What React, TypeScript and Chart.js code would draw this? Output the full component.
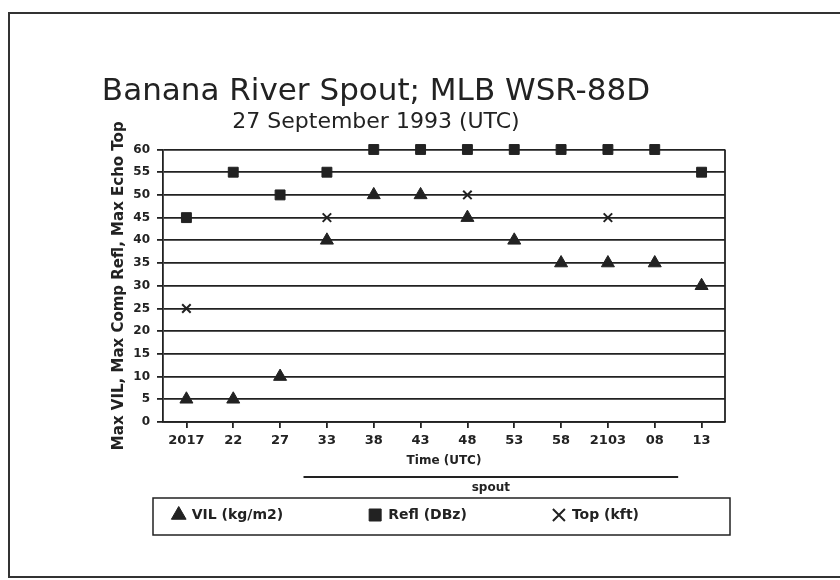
import React, { useEffect, useRef } from "react";
import { Chart, registerables } from "chart.js";

Chart.register(...registerables);

// ---- data ----
const times = ["2017", "22", "27", "33", "38", "43", "48", "53", "58", "2103", "08", "13"];
const vilValues = [5, 5, 10, 40, 50, 50, 45, 40, 35, 35, 35, 30];
const reflValues = [45, 55, 50, 55, 60, 60, 60, 60, 60, 60, 60, 55];
const topValues: (number | null)[] = [25, null, null, 45, null, null, 50, null, null, 45, null, null];
const seriesNames = ["VIL (kg/m2)", "Refl (DBz)", "Top (kft)"];
const yMin = 0;
const yMax = 60;
const yStep = 5;
// spout period: between 27 & 33 and between 08 & 13 (category positions)
const spoutFrom = 2.5;
const spoutTo = 10.5;
const spoutLabel = "spout";

const titleText = "Banana River Spout; MLB WSR-88D";
const subtitleText = "27 September 1993 (UTC)";
const xTitle = "Time (UTC)";
const yTitle = "Max VIL, Max Comp Refl, Max Echo Top";

const INK = "#222222";
const FONT = '"DejaVu Sans", sans-serif';

const decor = {
  id: "decor",
  afterLayout(chart: any) {
    // place the legend row directly under the plot so it sits below the "spout" bar
    const lg = chart.legend;
    if (!lg) return;
    const d = lg.top - chart.chartArea.bottom;
    lg.top -= d;
    lg.bottom -= d;
  },
  beforeDraw(chart: any) {
    const ctx = chart.ctx;
    ctx.save();
    ctx.fillStyle = "#ffffff";
    ctx.fillRect(0, 0, chart.width, chart.height);
    ctx.strokeStyle = "#333";
    ctx.lineWidth = 2;
    ctx.strokeRect(9, 13, chart.width + 20, 564);
    ctx.restore();
  },
  afterDraw(chart: any) {
    const ctx = chart.ctx;
    const ca = chart.chartArea;
    const x = chart.scales.x;
    ctx.save();
    ctx.strokeStyle = INK;
    ctx.lineWidth = 1.8;
    ctx.beginPath();
    ctx.moveTo(ca.right, ca.top);
    ctx.lineTo(ca.right, ca.bottom);
    ctx.stroke();

    // spout bar
    const x0 = x.getPixelForValue(spoutFrom);
    const x1 = x.getPixelForValue(spoutTo);
    const ly = ca.bottom + 55;
    ctx.lineWidth = 2;
    ctx.beginPath();
    ctx.moveTo(x0, ly);
    ctx.lineTo(x1, ly);
    ctx.stroke();
    ctx.fillStyle = INK;
    ctx.font = "bold 12px " + FONT;
    ctx.textAlign = "center";
    ctx.textBaseline = "middle";
    ctx.fillText(spoutLabel, (x0 + x1) / 2, ly + 11);

    // legend frame
    const lg = chart.legend;
    ctx.lineWidth = 1.5;
    ctx.strokeRect(ca.left - 10, lg.bottom - 34, ca.right - ca.left + 15, 37);
    ctx.restore();
  },
};

export default function App() {
  const ref = useRef<HTMLCanvasElement | null>(null);

  useEffect(() => {
    if (!ref.current) return;
    const chart = new Chart(ref.current, {
      type: "line",
      data: {
        labels: times,
        datasets: [
          {
            label: seriesNames[0],
            data: vilValues,
            showLine: false,
            clip: false,
            pointStyle: "triangle",
            pointRadius: 7.5,
            pointBackgroundColor: INK,
            pointBorderColor: INK,
            borderColor: INK,
            backgroundColor: INK,
            pointBorderWidth: 1,
          },
          {
            label: seriesNames[1],
            data: reflValues,
            showLine: false,
            clip: false,
            pointStyle: "rect",
            pointRadius: 7,
            pointBackgroundColor: INK,
            pointBorderColor: INK,
            borderColor: INK,
            backgroundColor: INK,
            pointBorderWidth: 1,
          },
          {
            label: seriesNames[2],
            data: topValues,
            showLine: false,
            clip: false,
            pointStyle: "crossRot",
            pointRadius: 6,
            pointBackgroundColor: INK,
            pointBorderColor: INK,
            borderColor: INK,
            backgroundColor: INK,
            pointBorderWidth: 2,
          },
        ],
      },
      options: {
        responsive: false,
        animation: false,
        layout: { padding: { left: 27, right: 115, top: 48, bottom: 2 } },
        plugins: {
          tooltip: { enabled: false },
          title: {
            display: true,
            text: titleText,
            color: INK,
            font: { family: FONT, size: 31, weight: "normal", lineHeight: 1.1 },
            padding: { top: 27, bottom: 0 },
          },
          subtitle: {
            display: true,
            text: subtitleText,
            color: INK,
            font: { family: FONT, size: 22, weight: "normal", lineHeight: 1.2 },
            padding: { top: 0, bottom: 14 },
          },
          legend: {
            position: "bottom",
            align: "end",
            labels: {
              usePointStyle: true,
              boxWidth: 12,
              boxHeight: 12,
              padding: 86,
              color: INK,
              font: { family: FONT, size: 14, weight: "bold" },
            },
          },
        },
        scales: {
          x: {
            type: "category",
            offset: true,
            afterFit: (s: any) => {
              s.height = 46;
            },
            grid: {
              display: true,
              drawOnChartArea: false,
              drawTicks: true,
              tickLength: 6,
              offset: false,
              color: INK,
              lineWidth: 1.8,
            },
            border: { display: true, color: INK, width: 1.8 },
            ticks: {
              color: INK,
              padding: 5,
              maxRotation: 0,
              autoSkip: false,
              font: { family: FONT, size: 13, weight: "bold" },
            },
            title: {
              display: true,
              text: xTitle,
              color: INK,
              font: { family: FONT, size: 12, weight: "bold" },
              padding: { top: 0, bottom: 0 },
            },
          },
          y: {
            min: yMin,
            max: yMax,
            afterFit: (s: any) => {
              s.width = 136;
            },
            grid: {
              color: INK,
              lineWidth: 1.8,
              drawTicks: true,
              tickLength: 6,
            },
            border: { display: true, color: INK, width: 1.8 },
            ticks: {
              stepSize: yStep,
              color: INK,
              padding: 7,
              font: { family: FONT, size: 12, weight: "bold" },
            },
            title: {
              display: true,
              text: yTitle,
              color: INK,
              font: { family: FONT, size: 15, weight: "bold" },
              padding: { top: 83, bottom: 0 },
            },
          },
        },
      },
      plugins: [decor],
    });
    return () => chart.destroy();
  }, []);

  return (
    <div style={{ position: "absolute", left: 0, top: 0, width: 840, height: 580 }}>
      <canvas ref={ref} width={840} height={580} style={{ display: "block" }} />
    </div>
  );
}
